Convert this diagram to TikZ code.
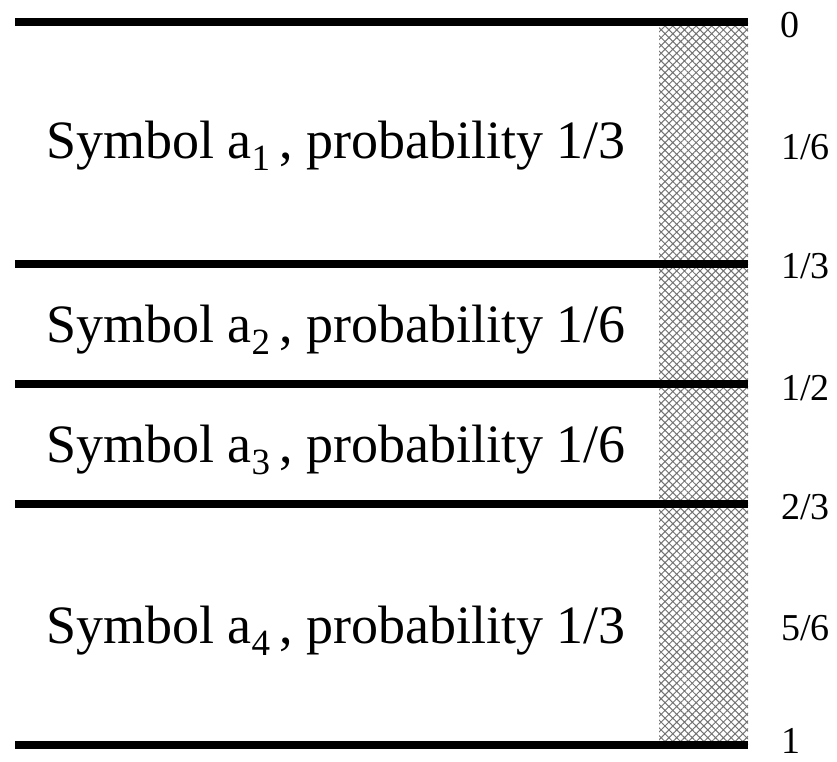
\documentclass[tikz,border=0pt]{standalone}
\usepackage{fontspec}
\setmainfont{Liberation Serif}
\usetikzlibrary{patterns.meta}
\newcommand{\symsub}[1]{\raisebox{-12pt}{\fontsize{37}{40}\selectfont #1}}
\begin{document}
\begin{tikzpicture}[x=1pt,y=-1pt,
  sepline/.style={line width=8.5pt},
  symlabel/.style={anchor=base west,inner sep=0pt,font=\fontsize{54}{60}\selectfont},
  ticklabel/.style={anchor=base west,inner sep=0pt,font=\fontsize{38}{42}\selectfont},
  hatchstrip/.style={draw=none,pattern={Hatch[angle=45,distance=5.5pt,line width=1pt]},pattern color=black!55}]
\useasboundingbox (0,0) rectangle (837,761);
% hatched strip
\fill[hatchstrip] (659,22) rectangle (748,745);
% separator lines
\coordinate (l0a) at (15,22);  \coordinate (l0b) at (748,22);
\coordinate (l1a) at (15,264); \coordinate (l1b) at (748,264);
\coordinate (l2a) at (15,384); \coordinate (l2b) at (748,384);
\coordinate (l3a) at (15,504); \coordinate (l3b) at (748,504);
\coordinate (l4a) at (15,745); \coordinate (l4b) at (748,745);
\draw[sepline] (l0a) -- (l0b);
\draw[sepline] (l1a) -- (l1b);
\draw[sepline] (l2a) -- (l2b);
\draw[sepline] (l3a) -- (l3b);
\draw[sepline] (l4a) -- (l4b);
% symbol labels
\node[symlabel] (s1) at (46,158) {Symbol a\symsub{1}\,, probability 1/3};
\node[symlabel] (s2) at (46,342) {Symbol a\symsub{2}\,, probability 1/6};
\node[symlabel] (s3) at (46,462) {Symbol a\symsub{3}\,, probability 1/6};
\node[symlabel] (s4) at (46,643) {Symbol a\symsub{4}\,, probability 1/3};
% tick labels
\node[ticklabel] (t0) at (780,37) {0};
\node[ticklabel] (t1) at (781,159) {1/6};
\node[ticklabel] (t2) at (781,278) {1/3};
\node[ticklabel] (t3) at (781,400) {1/2};
\node[ticklabel] (t4) at (781,519) {2/3};
\node[ticklabel] (t5) at (781,640) {5/6};
\node[ticklabel] (t6) at (781,753) {1};
\end{tikzpicture}
\end{document}
